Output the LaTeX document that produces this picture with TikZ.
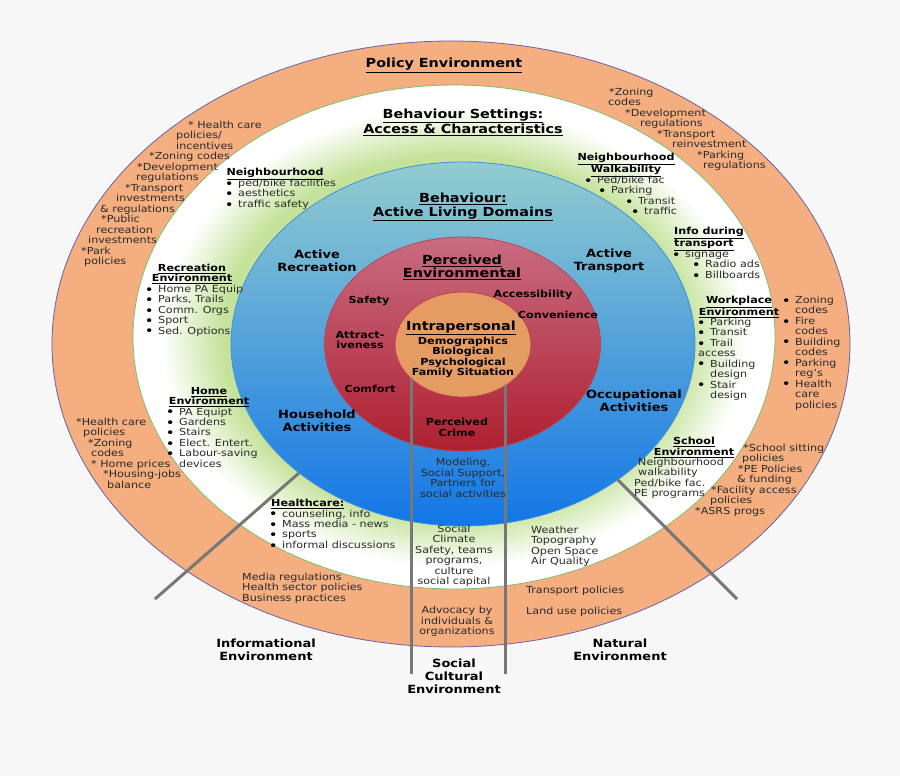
\documentclass[tikz,border=0pt]{standalone}
\usepackage{fontspec}
\setmainfont{DejaVu Sans}[FakeStretch=1.15]
\definecolor{pagebg}{HTML}{F7F7F7}
\definecolor{policyfill}{HTML}{F4AE80}
\definecolor{policyline}{HTML}{6A60A8}
\definecolor{ringgreen}{HTML}{C4E29A}
\definecolor{ringline}{HTML}{7CBF68}
\definecolor{bluetop}{HTML}{92CCCF}
\definecolor{bluemid}{HTML}{62B0DE}
\definecolor{bluebot}{HTML}{1276E6}
\definecolor{blueline}{HTML}{3C90E0}
\definecolor{redtop}{HTML}{C96C82}
\definecolor{redbot}{HTML}{AE2030}
\definecolor{redline}{HTML}{C04050}
\definecolor{corefill}{HTML}{E49C62}
\definecolor{spoke}{HTML}{777777}
\definecolor{bodyink}{HTML}{2A2A2A}
\pgfdeclareradialshading{greenring}{\pgfpointorigin}{color(0bp)=(ringgreen); color(18bp)=(ringgreen); color(22.8bp)=(white); color(50bp)=(white)}
\tikzset{
  spokeline/.style={draw=spoke,line width=3pt},
  bodytxt/.style={anchor=base west,inner sep=0pt,text=bodyink,font=\fontsize{9.7}{10.5}\selectfont},
  bodymid/.style={inner sep=0pt,text=bodyink,align=center,font=\fontsize{9.7}{10.47}\selectfont},
  smallhead/.style={inner sep=0pt,align=center,text=black,font=\fontsize{9.7}{10.47}\selectfont\bfseries},
  midhead/.style={inner sep=0pt,align=center,text=black,font=\fontsize{11.3}{13}\selectfont\bfseries},
  bighead/.style={inner sep=0pt,align=center,text=black,font=\fontsize{12.5}{13.5}\selectfont\bfseries},
}
\newcommand{\dotitem}{\makebox[9pt][l]{\hspace*{-4.4pt}\smash{\raisebox{-1.6pt}{\fontsize{13}{10}\selectfont\color{black}\textbullet}}}}
% one text line per list entry: x position / text, lines stepped downwards from y
\newcommand{\stair}[3]{\foreach \x/\lbl [count=\i] in {#3} {\node[bodytxt] (#1\i) at (\x,{#2+3.5+10.47*(\i-1)}) {\lbl};}}
\begin{document}
\begin{tikzpicture}[x=1pt,y=-1pt]
\fill[pagebg] (0,0) rectangle (900,776);

% rings
\draw[fill=policyfill,draw=policyline,line width=0.8pt] (451,344) ellipse [x radius=399,y radius=303];
\shade[shading=greenring,draw=ringline,line width=0.8pt] (454,337) ellipse [x radius=321,y radius=252];
\shade[top color=bluetop,middle color=bluemid,bottom color=bluebot,draw=blueline,line width=0.8pt] (463,344) ellipse [x radius=232,y radius=182];
\shade[top color=redtop,bottom color=redbot,draw=redline,line width=0.8pt] (462.5,344) ellipse [x radius=138,y radius=107];
\draw[fill=corefill,draw=redline,line width=0.8pt] (463,344.5) ellipse [x radius=68,y radius=52.5];

% spokes
\coordinate (infoin) at (299,473); \coordinate (infoout) at (155,599);
\coordinate (natin) at (617,479); \coordinate (natout) at (737,599);
\coordinate (socAin) at (411,378); \coordinate (socAout) at (411,674);
\coordinate (socBin) at (505,385); \coordinate (socBout) at (505,674);
\draw[spokeline] (infoin) -- (infoout);
\draw[spokeline] (natin) -- (natout);
\draw[spokeline] (socAin) -- (socAout);
\draw[spokeline] (socBin) -- (socBout);

% headings of the rings
\node[bighead] (policy) at (444,65.5) {\underline{Policy Environment}};
\node[bighead] (settings) at (463,122) {\underline{Behaviour Settings:}\\\underline{Access \& Characteristics}};
\node[bighead] (behaviour) at (463,207) {\underline{Behaviour:}\\\underline{Active Living Domains}};
\node[bighead] (perceived) at (462,267.5) {\underline{Perceived}\\\underline{Environmental}};
\node[bighead] (intra) at (461,328) {\underline{Intrapersonal}};
\node[smallhead] (core) at (463,357.5) {Demographics\\Biological\\Psychological\\Family Situation};

% domains
\node[midhead] (actrec) at (317,260.5) {Active\\Recreation};
\node[midhead] (acttrans) at (609,260.5) {Active\\Transport};
\node[midhead] (household) at (317,420.5) {Household\\Activities};
\node[midhead] (occup) at (634,400.5) {Occupational\\Activities};

% perceived environment
\node[smallhead] (safety) at (369,300.5) {Safety};
\node[smallhead] (attract) at (360,340) {Attract-\\iveness};
\node[smallhead] (comfort) at (370,388.5) {Comfort};
\node[smallhead] (crime) at (457,427.5) {Perceived\\Crime};
\node[smallhead] (access) at (533,294.5) {Accessibility};
\node[smallhead] (conven) at (558,314.5) {Convenience};

% behaviour settings
\node[smallhead] (neigh) at (275,174) {\underline{Neighbourhood}};
\stair{neighl}{183}{229/\dotitem {ped/bike facilities},229/\dotitem aesthetics,229/\dotitem traffic safety}
\node[smallhead] (recenv) at (192,274) {\underline{Recreation}\\\underline{Environment}};
\stair{recl}{289}{149/\dotitem Home PA Equip,149/\dotitem {Parks, Trails},149/\dotitem Comm. Orgs,149/\dotitem Sport,149/\dotitem Sed. Options}
\node[smallhead] (homeenv) at (209,397) {\underline{Home}\\\underline{Environment}};
\stair{homel}{411.5}{170/\dotitem PA Equipt,170/\dotitem Gardens,170/\dotitem Stairs,170/\dotitem Elect. Entert.,170/\dotitem Labour-saving,179/devices}
\node[smallhead,anchor=west] (health) at (271,504) {\underline{Healthcare:}};
\stair{healthl}{513.5}{273/\dotitem {counseling, info},273/\dotitem Mass media - news,273/\dotitem sports,273/\dotitem informal discussions}
\node[smallhead] (walk) at (626,165) {\underline{Neighbourhood}\\\underline{Walkability}};
\stair{walkl}{180}{588/\dotitem {Ped/bike fac},602/\dotitem Parking,629/\dotitem Transit,635/\dotitem traffic}
\node[smallhead,align=left,anchor=west] (infotr) at (674,239) {\underline{Info during}\\\underline{transport}};
\stair{infol}{254}{676/\dotitem signage,696/\dotitem Radio ads,696/\dotitem Billboards}
\node[smallhead] (work) at (739,307) {\underline{Workplace}\\\underline{Environment}};
\stair{workl}{322}{701/\dotitem Parking,701/\dotitem Transit,701/\dotitem Trail,698/access,701/\dotitem Building,710/design,701/\dotitem Stair,710/design}
\node[smallhead] (school) at (694,447.5) {\underline{School}\\\underline{Environment}};
\stair{schooll}{462}{638/Neighbourhood,638/walkability,634/{Ped/bike fac.},634/PE programs}
\node[bodymid] (support) at (463,478) {Modeling,\\Social Support,\\Partners for\\social activities};
\node[bodymid] (climate) at (454,556) {Social\\Climate\\Safety, teams\\programs,\\culture\\social capital};
\stair{weather}{530}{531/Weather,531/Topography,531/Open Space,531/Air Quality}

% policies
\stair{polA}{125}{188/* Health care,176/{policies/},176/incentives,149/*Zoning codes,137/*Development,136/regulations,125/*Transport,116/investments,100/\& regulations,101/*Public,96/recreation,88/investments,81/*Park,84/policies}
\stair{polB}{92}{609/*Zoning,608/codes,625/*Development,640/regulations,657/*Transport,672/reinvestment,697/*Parking,703/regulations}
\stair{polC}{300}{786/\dotitem Zoning,795/codes,786/\dotitem Fire,795/codes,786/\dotitem Building,795/codes,786/\dotitem Parking,795/reg's,786/\dotitem Health,795/care,795/policies}
\stair{polD}{448}{743/*School sitting,742/policies,738/*PE Policies,737/\& funding,711/*Facility access,710/policies,695/*ASRS progs}
\stair{polE}{422}{76/*Health care,83/policies,88/*Zoning,91/codes,91/* Home prices,103/*Housing-jobs,107/balance}
\stair{polF}{577}{242/Media regulations,242/Health sector policies,242/Business practices}
\node[bodytxt] (transp) at (526,593.5) {Transport policies};
\node[bodytxt] (landuse) at (526,614.5) {Land use policies};
\node[bodymid] (advocacy) at (457,621.5) {Advocacy by\\individuals \&\\organizations};

% environments below the rings
\node[midhead] (infoenv) at (266,649.5) {Informational\\Environment};
\node[midhead] (socenv) at (454,676.5) {Social\\Cultural\\Environment};
\node[midhead] (natenv) at (620,650) {Natural\\Environment};
\end{tikzpicture}
\end{document}
